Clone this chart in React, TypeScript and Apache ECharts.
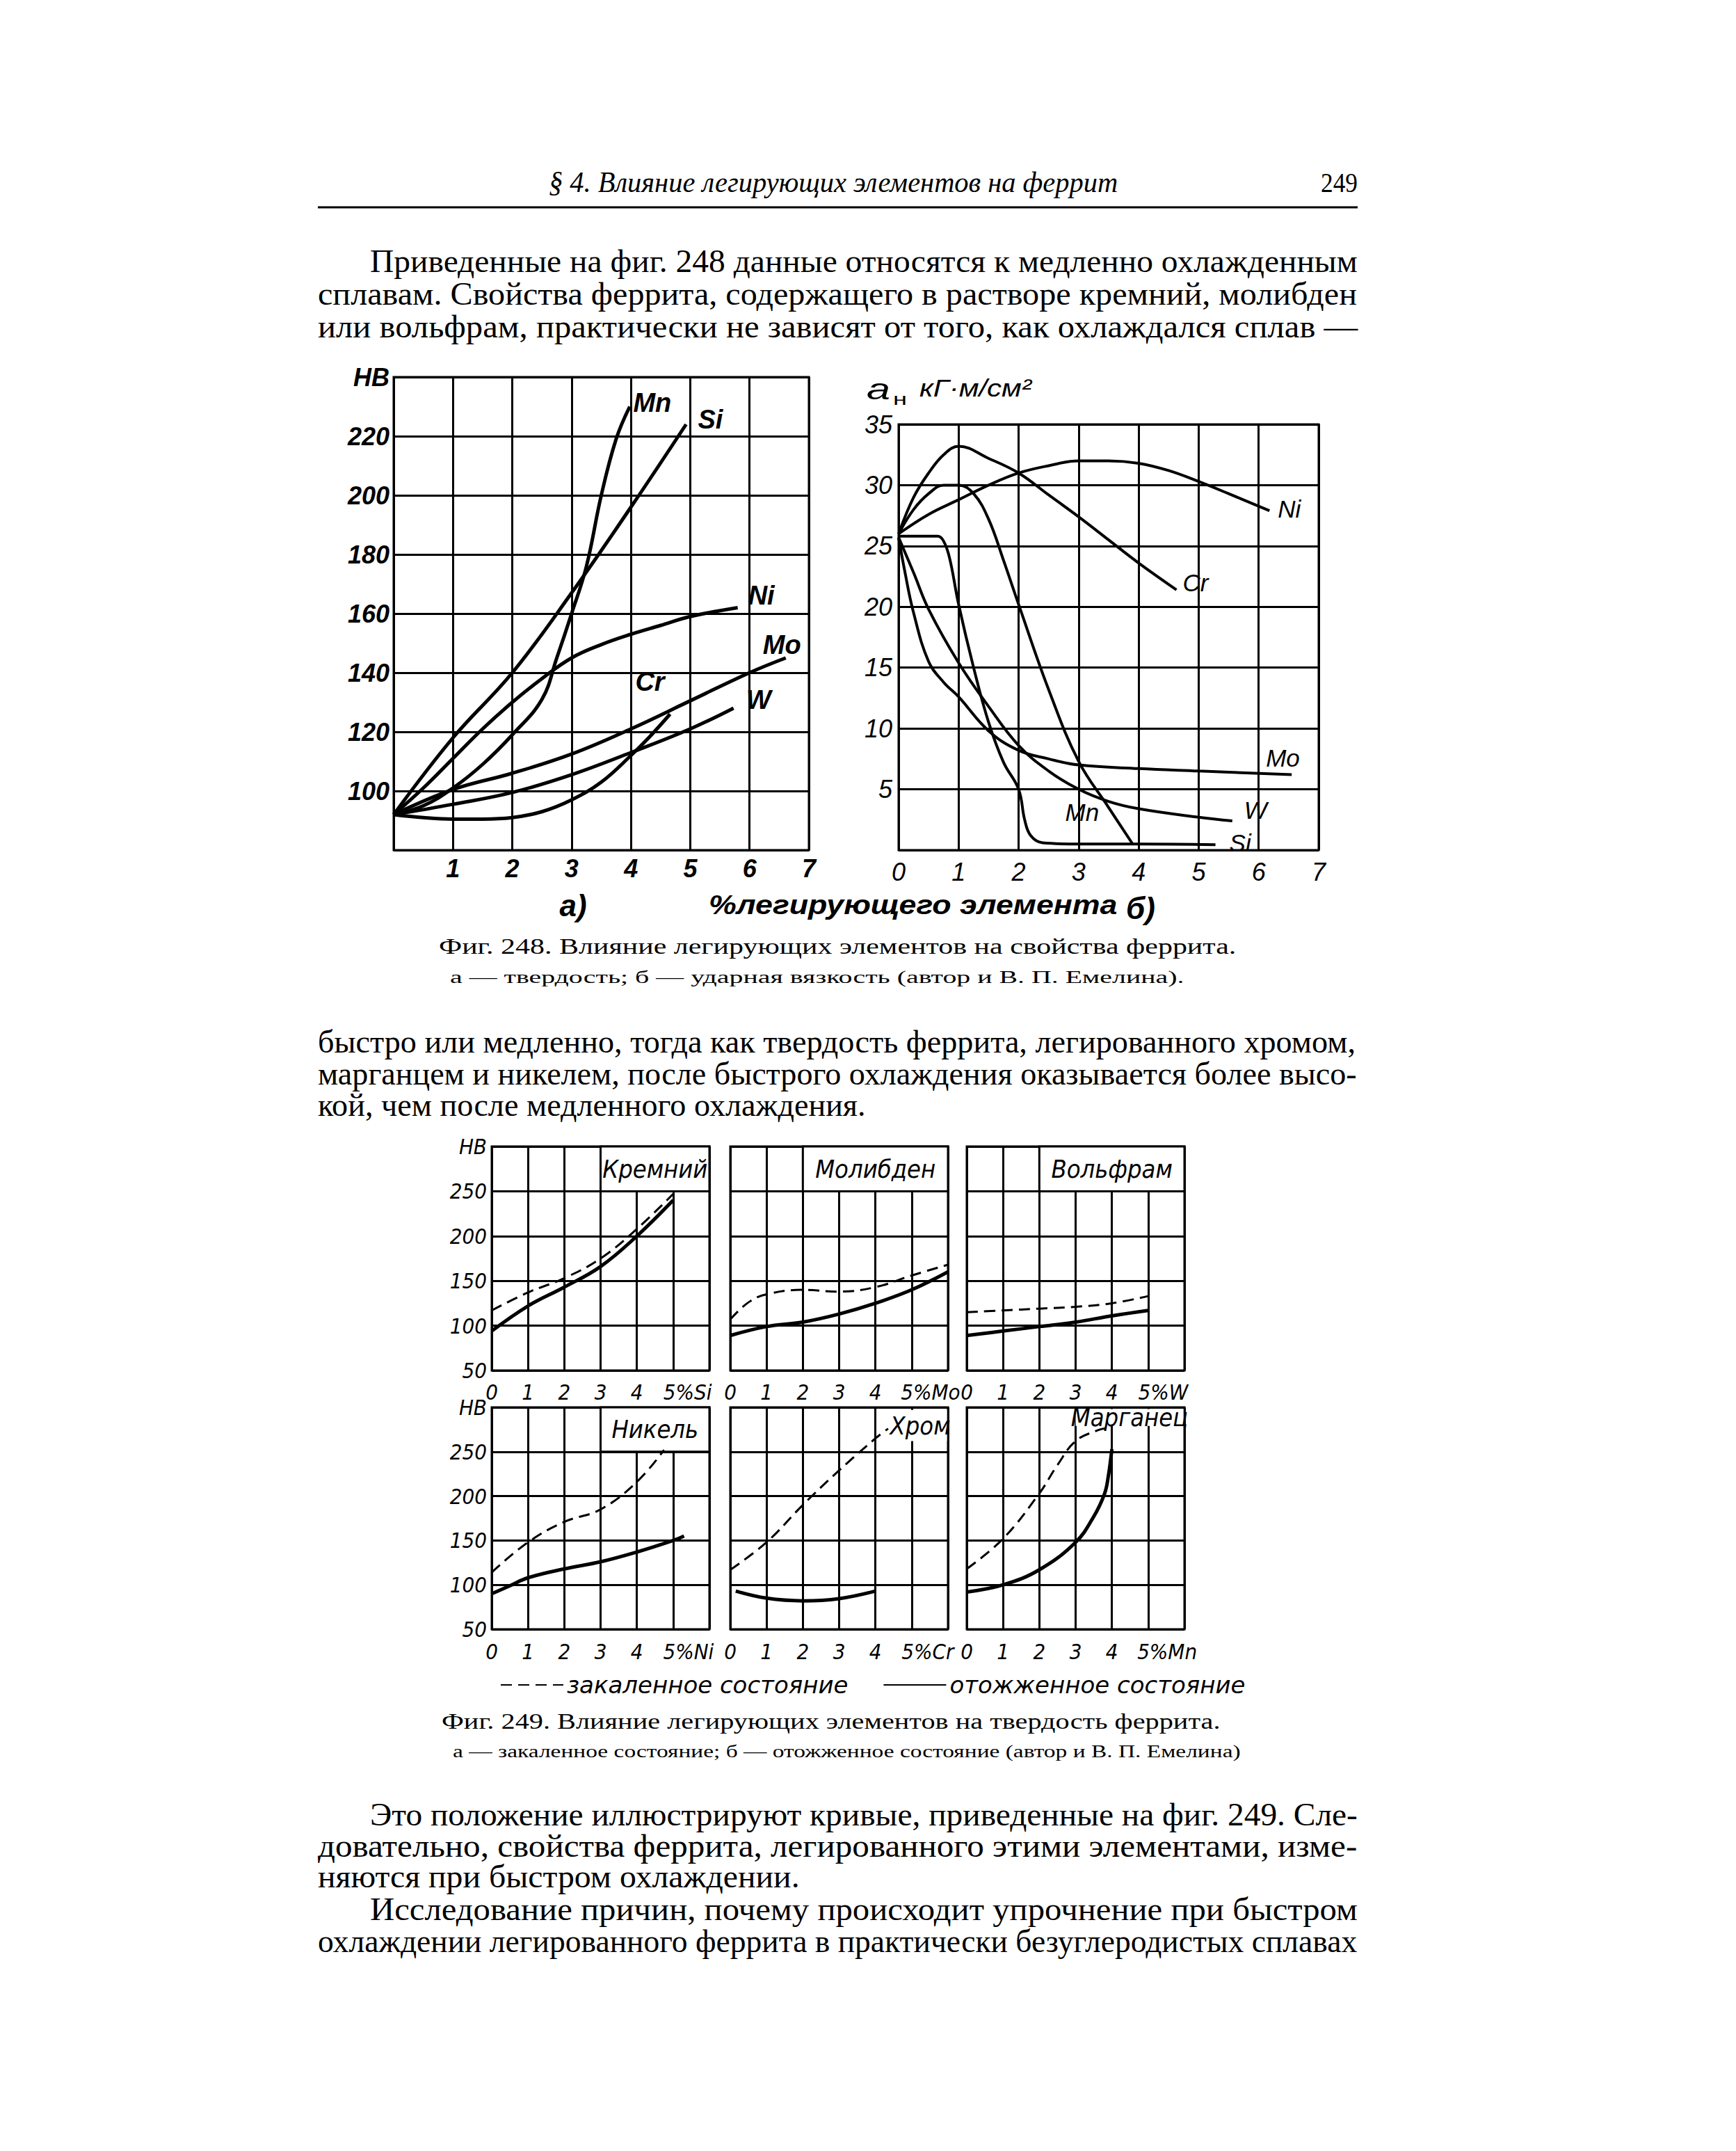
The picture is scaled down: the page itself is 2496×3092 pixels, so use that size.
import React, { useEffect, useRef } from "react";
import * as echarts from "echarts";

// ---------------- Fig. 248 a) hardness HB vs % alloying element ----------------
const aMnX = [0, 0.5, 1, 1.5, 2, 2.5, 2.75, 3, 3.25, 3.5, 3.75, 3.98];
const aMnY = [92, 95, 101, 109, 119, 131, 145, 160, 176, 200, 219, 230];
const aSiX = [0, 1, 2, 3, 4, 4.93];
const aSiY = [92, 118, 140, 167, 196, 224];
const aNiX = [0, 0.5, 1, 1.5, 2, 2.5, 3, 3.5, 4, 4.5, 5, 5.8];
const aNiY = [92, 101, 111, 121, 130, 138, 145, 149.5, 153, 156, 159, 162];
const aMoX = [0, 1, 2, 3, 4, 5, 6, 6.61];
const aMoY = [92, 100.5, 106, 112.5, 121, 130.5, 140, 145];
const aWX = [0, 1, 2, 3, 4, 5, 5.73];
const aWY = [92, 95.5, 99.5, 105.5, 113, 121, 128];
const aCrX = [0, 0.5, 1, 1.5, 2, 2.5, 3, 3.5, 4, 4.3, 4.66];
const aCrY = [92, 91, 90.5, 90.5, 91, 93, 97, 103, 112, 118, 126];

// ---------------- Fig. 248 б) impact toughness aн vs % alloying element ----------------
const bNiX = [0, 0.5, 1, 1.5, 2, 2.5, 3, 3.5, 4, 4.5, 5, 5.5, 6.18];
const bNiY = [26, 27.6, 28.8, 30, 31, 31.6, 32, 32, 31.8, 31.2, 30.3, 29.3, 27.9];
const bCrX = [0, 0.25, 0.5, 0.75, 1, 1.5, 2, 2.5, 3, 3.5, 4, 4.63];
const bCrY = [26, 29, 31, 32.5, 33.2, 32.2, 31, 29.2, 27.4, 25.5, 23.6, 21.4];
const bMnX = [0, 0.25, 0.5, 0.75, 1, 1.25, 1.5, 1.75, 2, 2.5, 3, 3.5, 3.9];
const bMnY = [26, 28, 29.3, 30, 30, 29.3, 27.2, 23.8, 20.2, 13.2, 7.3, 3.5, 0.5];
const bSiX = [0, 0.65, 0.75, 0.85, 1, 1.25, 1.5, 1.75, 2, 2.1, 2.2, 2.4, 3, 4, 5.28];
const bSiY = [25.8, 25.8, 25.4, 24, 20.2, 15, 10.5, 7.2, 5, 2.5, 1.2, 0.6, 0.5, 0.5, 0.45];
const bMoX = [0, 0.1, 0.25, 0.5, 0.75, 1, 1.5, 2, 2.5, 3, 4, 5, 6.55];
const bMoY = [25.7, 23, 19.5, 15.5, 13.8, 12.6, 9.8, 8.2, 7.5, 7, 6.7, 6.5, 6.2];
const bWX = [0, 0.25, 0.5, 1, 1.5, 2, 2.5, 3, 3.5, 4, 5, 5.56];
const bWY = [25.7, 22.8, 19.8, 15.4, 11.8, 8.6, 6.5, 5, 4, 3.4, 2.7, 2.4];

// ---------------- Fig. 249 hardness, quenched (dashed) / annealed (solid) ----------------
const siQX = [0, 1, 2, 3, 4, 5];
const siQY = [117, 137, 153, 175, 208, 247];
const siAX = [0, 1, 2, 3, 4, 5];
const siAY = [94, 122, 143, 166, 200, 240];
const moQX = [0, 0.5, 1, 2, 3, 4, 5, 6];
const moQY = [107, 126, 135, 140, 138, 143, 156, 168];
const moAX = [0, 1, 2, 3, 4, 5, 6];
const moAY = [89, 99, 104, 113, 125, 140, 160];
const wQX = [0, 1, 2, 3, 4, 5];
const wQY = [115, 117, 119, 121, 125, 133];
const wAX = [0, 1, 2, 3, 4, 5];
const wAY = [89, 94, 99, 104, 111, 117];
const niQX = [0, 1, 2, 3, 4, 4.75];
const niQY = [114, 148, 171, 185, 216, 252];
const niAX = [0, 0.5, 1, 2, 3, 4, 5, 5.3];
const niAY = [90, 99, 108, 118, 126, 137, 150, 155];
const crQX = [0, 1, 2, 3, 4, 4.35];
const crQY = [117, 148, 190, 229, 265, 276];
const crAX = [0.15, 1, 2, 3, 4];
const crAY = [93, 85, 82, 84.5, 93];
const mnQX = [0, 1, 2, 2.5, 3, 3.6, 3.9];
const mnQY = [118, 152, 203, 235, 262, 274, 277];
const mnAX = [0, 1, 2, 3, 3.5, 3.8, 3.9, 4];
const mnAY = [92, 100, 117, 148, 177, 203, 222, 253];

const panelTitles = ["Кремний", "Молибден", "Вольфрам", "Никель", "Хром", "Марганец"];
const panelSuffix = ["%Si", "%Mo", "%W", "%Ni", "%Cr", "%Mn"];
const legendNames = ["закаленное состояние", "отожженное состояние"];

// ---------------- page text ----------------
const headerText = "§ 4. Влияние легирующих элементов на феррит";
const pageNo = "249";
const para1 = [
  "Приведенные на фиг. 248 данные относятся к медленно охлажденным",
  "сплавам. Свойства феррита, содержащего в растворе кремний, молибден",
  "или вольфрам, практически не зависят от того, как охлаждался сплав —",
];
const cap248 = "Фиг. 248. Влияние легирующих элементов на свойства феррита.";
const cap248b = "а — твердость; б — ударная вязкость (автор и В. П. Емелина).";
const para2 = [
  "быстро или медленно, тогда как твердость феррита, легированного хромом,",
  "марганцем и никелем, после быстрого охлаждения оказывается более высо-",
  "кой, чем после медленного охлаждения.",
];
const cap249 = "Фиг. 249. Влияние легирующих элементов на твердость феррита.";
const cap249b = "а — закаленное состояние; б — отожженное состояние (автор и В. П. Емелина)";
const para3 = [
  "Это положение иллюстрируют кривые, приведенные на фиг. 249. Сле-",
  "довательно, свойства феррита, легированного этими элементами, изме-",
  "няются при быстром охлаждении.",
  "Исследование причин, почему происходит упрочнение при быстром",
  "охлаждении легированного феррита в практически безуглеродистых сплавах",
];

const zip = (xs: number[], ys: number[]) => xs.map((x, i) => [x, ys[i]]);

const SERIF = '"Liberation Serif", "DejaVu Serif", serif';
const SANS = '"Liberation Sans", "DejaVu Sans", sans-serif';
const NARROW = '"Liberation Sans Narrow", "DejaVu Sans Condensed", "Liberation Sans", sans-serif';

function buildOption() {
  const cv = document.createElement("canvas");
  const ctx = cv.getContext("2d")!;
  const tw = (t: string, font: string) => {
    ctx.font = font;
    return ctx.measureText(t).width;
  };

  const graphics: any[] = [];
  const fit = (text: string, x: number, y: number, w: number | null, font: string, sc?: number) => {
    const nat = tw(text, font);
    const s = w != null ? w / nat : sc ?? 1;
    graphics.push({
      type: "text",
      x,
      y,
      scaleX: s,
      silent: true,
      style: { text, font, fill: "#000", textAlign: "left", textVerticalAlign: "middle" },
    });
    return s;
  };

  // header
  fit(headerText, 789, 262, 818, `italic 42px ${SERIF}`);
  fit(pageNo, 1899, 262, 53, `40px ${SERIF}`);
  graphics.push({
    type: "line",
    silent: true,
    shape: { x1: 457, y1: 298, x2: 1952, y2: 298 },
    style: { stroke: "#000", lineWidth: 3 },
  });

  const body = `46px ${SERIF}`;
  fit(para1[0], 532, 375, 1420, body);
  fit(para1[1], 457, 422, 1495, body);
  fit(para1[2], 457, 469, 1495, body);

  // fig 248 bottom texts
  graphics.push({
    type: "text", x: 824, y: 1301, silent: true,
    style: { text: "а)", font: `italic bold 44px ${SANS}`, fill: "#000", textAlign: "center", textVerticalAlign: "middle" },
  });
  fit("%легирующего элемента", 1019, 1301, 588, `italic bold 38px ${SANS}`);
  graphics.push({
    type: "text", x: 1640, y: 1305, silent: true,
    style: { text: "б)", font: `italic bold 44px ${SANS}`, fill: "#000", textAlign: "center", textVerticalAlign: "middle" },
  });
  // chart b y-axis title
  fit("а", 1246, 560, 34, `italic 42px ${SANS}`);
  fit("н", 1284, 574, 20, `24px ${SANS}`);
  fit("кГ·м/см²", 1322, 558, 161, `italic 36px ${SANS}`);

  fit(cap248, 631, 1360, 1147, `32px ${SERIF}`);
  fit(cap248b, 647, 1404, 1056, `25px ${SERIF}`);

  const s21 = fit(para2[0], 457, 1498, 1492, body);
  const s22 = fit(para2[1], 457, 1544, 1495, body);
  fit(para2[2], 457, 1589, null, body, (s21 + s22) / 2);

  fit(cap249, 635, 2474, 1120, `32px ${SERIF}`);
  fit(cap249b, 651, 2518, 1133, `25px ${SERIF}`);

  const s31 = fit(para3[0], 532, 2608, 1420, body);
  const s32 = fit(para3[1], 457, 2654, 1495, body);
  const s34 = fit(para3[3], 532, 2744, 1420, body);
  const s35 = fit(para3[4], 457, 2790, 1495, body);
  fit(para3[2], 457, 2697, null, body, (s31 + s32 + s34 + s35) / 4);

  // ---------- grids ----------
  const grids: any[] = [];
  const xAxes: any[] = [];
  const yAxes: any[] = [];
  const series: any[] = [];
  const gridBase = { show: true, borderColor: "#000", borderWidth: 3, backgroundColor: "transparent", containLabel: false };
  const split = (w: number) => ({ show: true, lineStyle: { color: "#000", width: w } });

  // chart a
  grids.push({ ...gridBase, left: 566, top: 542, width: 597, height: 680 });
  const labA = { color: "#000", fontFamily: SANS, fontStyle: "italic", fontWeight: "bold", fontSize: 36 };
  xAxes.push({
    type: "value", gridIndex: 0, min: 0, max: 7, interval: 1,
    axisLine: { show: false }, axisTick: { show: false }, splitLine: split(3),
    axisLabel: { ...labA, margin: 8, formatter: (v: number) => (v === 0 ? "" : String(v)) },
  });
  yAxes.push({
    type: "value", gridIndex: 0, min: 80, max: 240, interval: 20,
    axisLine: { show: false }, axisTick: { show: false }, splitLine: split(3),
    axisLabel: { ...labA, margin: 6, formatter: (v: number) => (v === 240 ? "HB" : v === 80 ? "" : String(v)) },
  });

  // chart b
  grids.push({ ...gridBase, left: 1292, top: 610, width: 604, height: 612 });
  const labB = { color: "#000", fontFamily: SANS, fontStyle: "italic", fontSize: 36 };
  xAxes.push({
    type: "value", gridIndex: 1, min: 0, max: 7, interval: 1,
    axisLine: { show: false }, axisTick: { show: false }, splitLine: split(3),
    axisLabel: { ...labB, margin: 13 },
  });
  yAxes.push({
    type: "value", gridIndex: 1, min: 0, max: 35, interval: 5,
    axisLine: { show: false }, axisTick: { show: false }, splitLine: split(3),
    axisLabel: { ...labB, margin: 9, formatter: (v: number) => (v === 0 ? "" : String(v)) },
  });

  const curve = (name: string, xs: number[], ys: number[], gi: number, off: number[], bold: boolean) => ({
    type: "line",
    name,
    xAxisIndex: gi,
    yAxisIndex: gi,
    data: zip(xs, ys),
    smooth: 0.4,
    symbol: "none",
    silent: true,
    color: "#000",
    lineStyle: { color: "#000", width: gi === 0 ? 5 : 4 },
    endLabel: {
      show: true,
      formatter: name,
      offset: off,
      color: "#000",
      fontFamily: SANS,
      fontStyle: "italic",
      fontWeight: bold ? "bold" : "normal",
      fontSize: bold ? 38 : 35,
    },
    z: 3,
  });

  series.push(curve("Mn", aMnX, aMnY, 0, [-3, -6], true));
  series.push(curve("Si", aSiX, aSiY, 0, [9, -7], true));
  series.push(curve("Ni", aNiX, aNiY, 0, [7, -18], true));
  series.push(curve("Mo", aMoX, aMoY, 0, [-41, -19], true));
  series.push(curve("W", aWX, aWY, 0, [10, -12], true));
  series.push(curve("Cr", aCrX, aCrY, 0, [-58, -47], true));

  series.push(curve("Ni", bNiX, bNiY, 1, [4, -3], false));
  series.push(curve("Cr", bCrX, bCrY, 1, [1, -10], false));
  series.push(curve("Mn", bMnX, bMnY, 1, [-105, -46], false));
  series.push(curve("Si", bSiX, bSiY, 1, [12, -3], false));
  series.push(curve("Mo", bMoX, bMoY, 1, [-45, -24], false));
  series.push(curve("W", bWX, bWY, 1, [9, -16], false));

  // fig 249 panels
  const panelData = [
    { q: zip(siQX, siQY), a: zip(siAX, siAY), box: [3, 250, 6, 300], border: true },
    { q: zip(moQX, moQY), a: zip(moAX, moAY), box: [2, 250, 6, 300], border: true },
    { q: zip(wQX, wQY), a: zip(wAX, wAY), box: [2, 250, 6, 300], border: true },
    { q: zip(niQX, niQY), a: zip(niAX, niAY), box: [3, 250, 6, 300], border: true },
    { q: zip(crQX, crQY), a: zip(crAX, crAY), box: [4.5, 262, 5.97, 297], border: false },
    { q: zip(mnQX, mnQY), a: zip(mnAX, mnAY), box: [3, 279, 5.97, 298], border: false },
  ];
  const lefts = [707, 1050, 1390];
  const tops = [1648, 2023];
  const heights = [322, 319];
  const lab9 = { color: "#000", fontFamily: NARROW, fontStyle: "italic", fontSize: 31 };
  const lab9Font = `italic 31px ${NARROW}`;
  panelData.forEach((p, i) => {
    const row = Math.floor(i / 3);
    const col = i % 3;
    const gi = grids.length;
    grids.push({ ...gridBase, left: lefts[col], top: tops[row], width: 313, height: heights[row] });
    const suf = panelSuffix[i];
    const spW = tw(suf, lab9Font) * 0.8;
    xAxes.push({
      type: "value", gridIndex: gi, min: 0, max: 6, interval: 1,
      axisLine: { show: false }, axisTick: { show: false }, splitLine: split(3),
      axisLabel: {
        ...lab9,
        margin: row === 0 ? 15 : 16,
        formatter: (v: number) => (v === 5 ? `{s|}5{u|${suf}}` : v === 6 ? "" : String(v)),
        rich: {
          s: { width: spW, ...lab9 },
          u: { ...lab9 },
        },
      },
    });
    yAxes.push({
      type: "value", gridIndex: gi, min: 50, max: 300, interval: 50,
      axisLine: { show: false }, axisTick: { show: false }, splitLine: split(3),
      axisLabel: {
        show: col === 0,
        ...lab9,
        margin: 7,
        formatter: (v: number) => (v === 300 ? "HB" : String(v)),
      },
    });
    series.push({
      type: "line",
      name: legendNames[0],
      xAxisIndex: gi,
      yAxisIndex: gi,
      data: p.q,
      smooth: 0.4,
      symbol: "none",
      silent: true,
      color: "#000",
      lineStyle: { color: "#000", width: 3, type: [16, 9] },
      z: 3,
      markArea: {
        silent: true,
        itemStyle: { color: "#fff", borderColor: "#000", borderWidth: p.border ? 3 : 0, opacity: 1 },
        label: { show: true, position: "inside", color: "#000", fontFamily: NARROW, fontStyle: "italic", fontSize: 36 },
        data: [[{ name: panelTitles[i], coord: [p.box[0], p.box[1]] }, { coord: [p.box[2], p.box[3]] }]],
      },
    });
    series.push({
      type: "line",
      name: legendNames[1],
      xAxisIndex: gi,
      yAxisIndex: gi,
      data: p.a,
      smooth: 0.4,
      symbol: "none",
      silent: true,
      color: "#000",
      lineStyle: { color: "#000", width: 5 },
      z: 3,
    });
  });

  return {
    animation: false,
    backgroundColor: "#fff",
    grid: grids,
    xAxis: xAxes,
    yAxis: yAxes,
    series,
    legend: {
      data: legendNames,
      left: 714,
      top: 2400,
      itemWidth: 90,
      itemHeight: 22,
      itemGap: 50,
      selectedMode: false,
      itemStyle: { opacity: 0, borderWidth: 0 },
      textStyle: { color: "#000", fontFamily: '"DejaVu Sans", sans-serif', fontStyle: "italic", fontSize: 34 },
    },
    graphic: graphics,
  };
}

export default function App() {
  const ref = useRef<HTMLDivElement>(null);
  useEffect(() => {
    document.body.style.margin = "0";
    const el = ref.current!;
    const chart = echarts.init(el, null, { renderer: "svg" });
    chart.setOption(buildOption() as any);
    return () => chart.dispose();
  }, []);
  return <div ref={ref} style={{ width: 2496, height: 3092, background: "#fff" }} />;
}
